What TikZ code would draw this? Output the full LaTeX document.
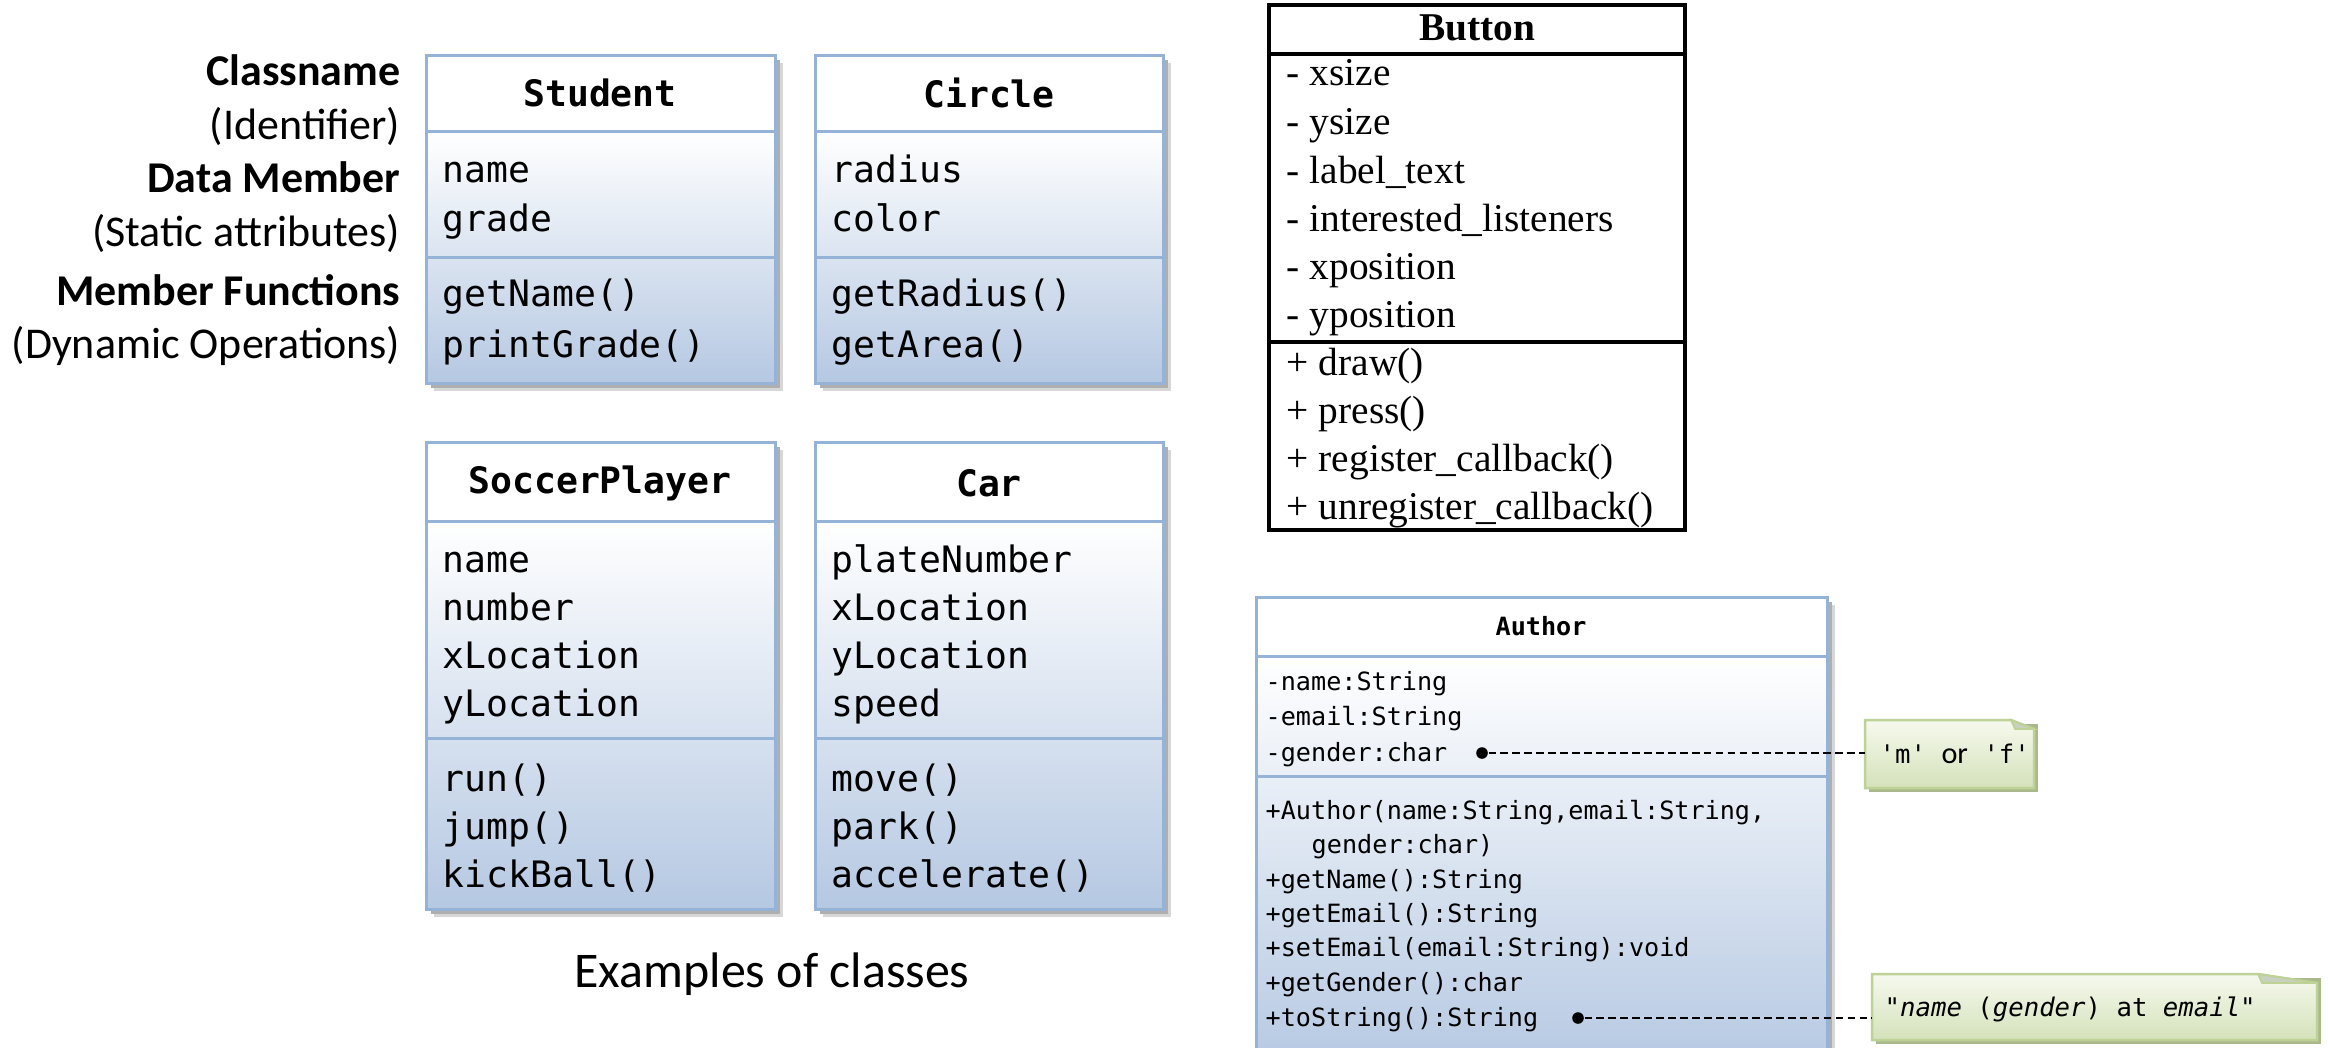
\documentclass[tikz,border=0pt]{standalone}
\usepackage{fontspec}
\setmainfont{Carlito}
\setmonofont{DejaVu Sans Mono}[ItalicFont={DejaVu Sans Mono Oblique},BoldFont={DejaVu Sans Mono Bold}]
\newfontfamily\btnfont{Liberation Serif}
\definecolor{umlline}{RGB}{149,179,215}
\definecolor{umlbot}{RGB}{181,200,226}
\definecolor{umlshadow}{RGB}{175,175,175}
\definecolor{notetop}{RGB}{246,249,238}
\definecolor{notebot}{RGB}{212,226,186}
\definecolor{noteline}{RGB}{190,210,150}
\definecolor{noteshadow}{RGB}{170,185,140}
\definecolor{notefold}{RGB}{200,208,190}
\newcommand\drawclass[6]{% left, top, right, bottom, div1, div2
  \fill[umlshadow!50] (#1+8,#2+8) rectangle (#3+8,#4+8);
  \fill[umlshadow] (#1+5,#2+5) rectangle (#3+5,#4+5);
  \fill[white] (#1,#2) rectangle (#3,#5);
  \shade[top color=white, bottom color=umlbot] (#1,#5) rectangle (#3,#4);
  \draw[umlline, line width=0.85pt] (#1,#2) rectangle (#3,#4);
  \draw[umlline, line width=0.85pt] (#1,#5) -- (#3,#5);
  \draw[umlline, line width=0.85pt] (#1,#6) -- (#3,#6);
}
\newcommand\drawnote[6]{% left, top, right, bottom, foldx, foldy
  \fill[noteshadow] (#1+4,#2+4) rectangle (#3+4,#4+4);
  \shade[top color=notetop, bottom color=notebot, draw=noteline, line width=0.7pt]
    (#1,#2) -- (#5,#2) -- (#3,#6) -- (#3,#4) -- (#1,#4) -- cycle;
  \fill[notefold, draw=noteline, line width=0.5pt] (#5,#2) -- (#3,#6) -- (#5+4,#6) -- cycle;
}
\begin{document}
\begin{tikzpicture}[x=0.01cm, y=-0.01cm,
  lab/.style={font=\fontsize{12.5}{14}\selectfont, anchor=mid east, inner sep=0},
  labb/.style={lab, font=\fontsize{12.5}{14}\selectfont\bfseries},
  mono/.style={font=\fontsize{10.35}{12}\ttfamily, anchor=mid west, inner sep=0},
  monotitle/.style={font=\fontsize{10.35}{12}\ttfamily\bfseries, anchor=center, inner sep=0},
  amono/.style={font=\fontsize{7.15}{9}\ttfamily, anchor=mid west, inner sep=0},
  amonotitle/.style={font=\fontsize{7.15}{9}\ttfamily\bfseries, anchor=center, inner sep=0},
  btn/.style={font=\fontsize{11.2}{13}\btnfont, anchor=mid west, inner sep=0},
  btntitle/.style={font=\fontsize{11.2}{13}\btnfont\bfseries, anchor=center, inner sep=0},
  dot/.style={circle, fill=black, inner sep=0, minimum size=3.3pt},
  link/.style={black, line width=0.4pt, dash pattern=on 2.2pt off 1.2pt},
  notetext/.style={font=\fontsize{7.3}{9}\ttfamily, anchor=mid west, inner sep=0}]
\useasboundingbox (0,0) rectangle (2328,1047);
\clip (0,0) rectangle (2328,1047);
\fill[white] (0,0) rectangle (2328,1047);

% left labels
\node[labb] (l1) at (401,77) {Classname};
\node[lab]  (l2) at (401,131) {(Identifier)};
\node[labb] (l3) at (401,184) {Data Member};
\node[lab]  (l4) at (401,238) {(Static attributes)};
\node[labb] (l5) at (401,297) {Member Functions};
\node[lab]  (l6) at (401,350) {(Dynamic Operations)};

% Student
\drawclass{426}{55}{775}{383}{131}{257}
\node[monotitle] (stT) at (600,93) {Student};
\node[mono] (st1) at (442,174) {name};
\node[mono] (st2) at (442,223) {grade};
\node[mono] (st3) at (442,298) {getName()};
\node[mono] (st4) at (442,349) {printGrade()};

% Circle
\drawclass{815}{55}{1163}{383}{131}{257}
\node[monotitle] (ciT) at (989,93) {Circle};
\node[mono] (ci1) at (831,174) {radius};
\node[mono] (ci2) at (831,223) {color};
\node[mono] (ci3) at (831,298) {getRadius()};
\node[mono] (ci4) at (831,349) {getArea()};

% SoccerPlayer
\drawclass{426}{442}{775}{909}{521}{738}
\node[monotitle] (spT) at (600,483) {SoccerPlayer};
\node[mono] (sp1) at (442,564) {name};
\node[mono] (sp2) at (442,612) {number};
\node[mono] (sp3) at (442,660) {xLocation};
\node[mono] (sp4) at (442,708) {yLocation};
\node[mono] (sp5) at (442,783) {run()};
\node[mono] (sp6) at (442,831) {jump()};
\node[mono] (sp7) at (442,879) {kickBall()};

% Car
\drawclass{815}{442}{1163}{909}{521}{738}
\node[monotitle] (caT) at (989,483) {Car};
\node[mono] (ca1) at (831,564) {plateNumber};
\node[mono] (ca2) at (831,612) {xLocation};
\node[mono] (ca3) at (831,660) {yLocation};
\node[mono] (ca4) at (831,708) {speed};
\node[mono] (ca5) at (831,783) {move()};
\node[mono] (ca6) at (831,831) {park()};
\node[mono] (ca7) at (831,879) {accelerate()};

\node[font=\fontsize{14.2}{16}\selectfont, inner sep=0] (ex) at (772,974) {Examples of classes};

% Button
\draw[black, line width=1pt] (1269,5) rectangle (1685,530);
\draw[black, line width=1pt] (1269,54) -- (1685,54);
\draw[black, line width=1pt] (1269,342) -- (1685,342);
\node[btntitle] (btT) at (1477,28) {Button};
\node[btn] (bt1) at (1286,77) {- xsize};
\node[btn] (bt2) at (1286,126) {- ysize};
\node[btn] (bt3) at (1286,175) {- label\_text};
\node[btn] (bt4) at (1286,223) {- interested\_listeners};
\node[btn] (bt5) at (1286,271) {- xposition};
\node[btn] (bt6) at (1286,319) {- yposition};
\node[btn] (bt7) at (1286,367) {+ draw()};
\node[btn] (bt8) at (1286,415) {+ press()};
\node[btn] (bt9) at (1286,463) {+ register\_callback()};
\node[btn] (bt10) at (1286,511) {+ unregister\_callback()};

% Author
\drawclass{1256}{597}{1827}{1070}{656}{776}
\node[amonotitle] (auT) at (1541,626) {Author};
\node[amono] (au1) at (1265,682) {-name:String};
\node[amono] (au2) at (1265,717) {-email:String};
\node[amono] (au3) at (1265,753) {-gender:char};
\node[amono] (au4) at (1265,811) {+Author(name:String,email:String,};
\node[amono] (au5) at (1311,845) {gender:char)};
\node[amono] (au6) at (1265,880) {+getName():String};
\node[amono] (au7) at (1265,914) {+getEmail():String};
\node[amono] (au8) at (1265,948) {+setEmail(email:String):void};
\node[amono] (au9) at (1265,983) {+getGender():char};
\node[amono] (au10) at (1265,1018) {+toString():String};

% notes
\drawnote{1865}{720}{2034}{788}{2011}{729}
\node[notetext] (n1) at (1879,755) {\textquotesingle m\textquotesingle\ {\rmfamily\fontsize{8.6}{9}\selectfont or} \textquotesingle f\textquotesingle};
\coordinate (n1w) at (1865,753);
\drawnote{1872}{974}{2317}{1040}{2258}{983}
\node[notetext] (n2) at (1884,1008) {"\textit{name} (\textit{gender}) at \textit{email}"};
\coordinate (n2w) at (1872,1018);

% dots and dashed links
\node[dot] (d1) at (1482,753) {};
\node[dot] (d2) at (1578,1018) {};
\draw[link] (d1) -- (n1w);
\draw[link] (d2) -- (n2w);
\end{tikzpicture}
\end{document}
